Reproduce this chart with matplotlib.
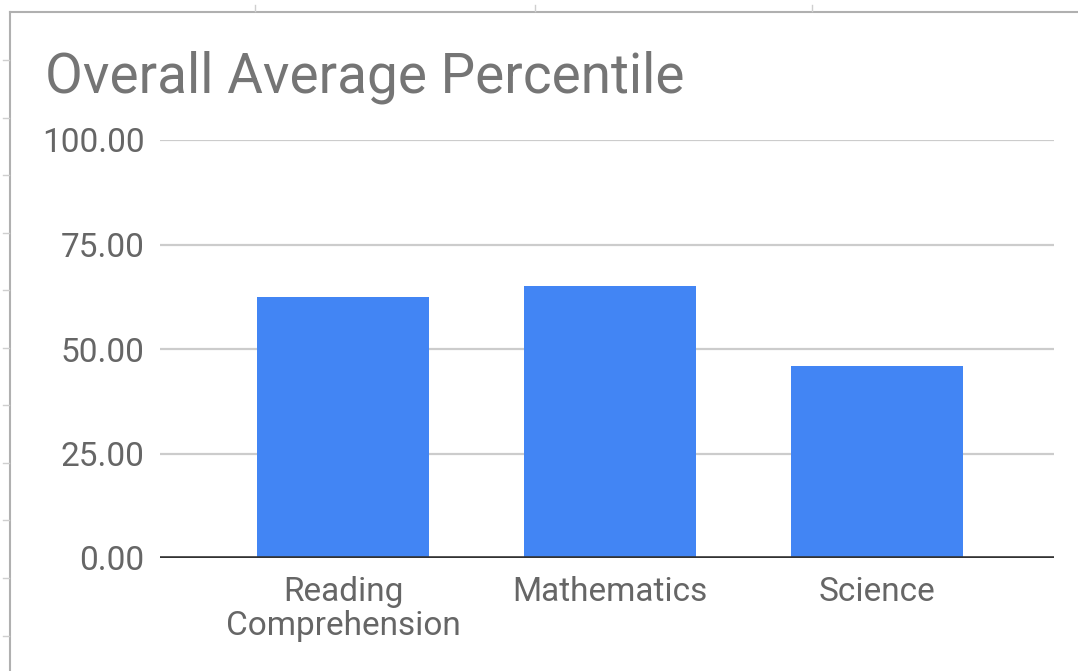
import matplotlib
matplotlib.use("Agg")
import matplotlib.pyplot as plt
from matplotlib.lines import Line2D
import numpy as np

# ---------------------------------------------------------------------------
# Données
# ---------------------------------------------------------------------------

categories = ["Reading\nComprehension", "Mathematics", "Science"]
percentiles = [62.4, 65.1, 45.9]
y_ticks = [0, 25, 50, 75, 100]

W, H = 1078, 671
plt.rcParams["font.family"] = ["Roboto", "DejaVu Sans"]

fig = plt.figure(figsize=(W / 100, H / 100), dpi=100)
ax = fig.add_axes([160 / W, 1 - 558 / H, (1054 - 160) / W, (558 - 140) / H])

x = np.arange(len(categories))
ax.bar(x, percentiles, width=0.645, color="#4285f4", zorder=3)

ax.set_xlim(-0.686, 2.665)
ax.set_ylim(0, 100)
ax.set_yticks(y_ticks)
ax.set_yticklabels([f"{v:.2f}" for v in y_ticks])
ax.set_xticks(x)
ax.set_xticklabels(categories, linespacing=1.08)

ax.grid(axis="y", color="#cccccc", linewidth=1.6, zorder=0)
ax.axhline(0, color="#333333", linewidth=2.6, zorder=4)
for s in ax.spines.values():
    s.set_visible(False)
ax.tick_params(axis="both", length=0, labelsize=24, labelcolor="#666666")
ax.tick_params(axis="y", pad=11)
ax.tick_params(axis="x", pad=13)

fig.text(45 / W, 1 - 92 / H, "Overall Average Percentile", fontsize=39.5,
         color="#757575", ha="left", va="baseline")

# --- Cadre du graphique et repères de cellules ---
px = lambda v: v / W
py = lambda v: 1 - v / H
fig.add_artist(Line2D([px(10), px(10)], [py(12), py(H)], color="#b0b0b0", lw=1.5))
fig.add_artist(Line2D([px(10), px(W)], [py(12), py(12)], color="#b0b0b0", lw=1.5))
for yy in [60, 118, 175, 233, 290, 348, 405, 463, 520, 578, 636]:
    fig.add_artist(Line2D([px(3), px(9)], [py(yy), py(yy)], color="#cfcfcf", lw=1))
for xx in [255, 535, 812]:
    fig.add_artist(Line2D([px(xx), px(xx)], [py(5), py(11)], color="#cfcfcf", lw=1))

fig.savefig("out.png", dpi=100)
